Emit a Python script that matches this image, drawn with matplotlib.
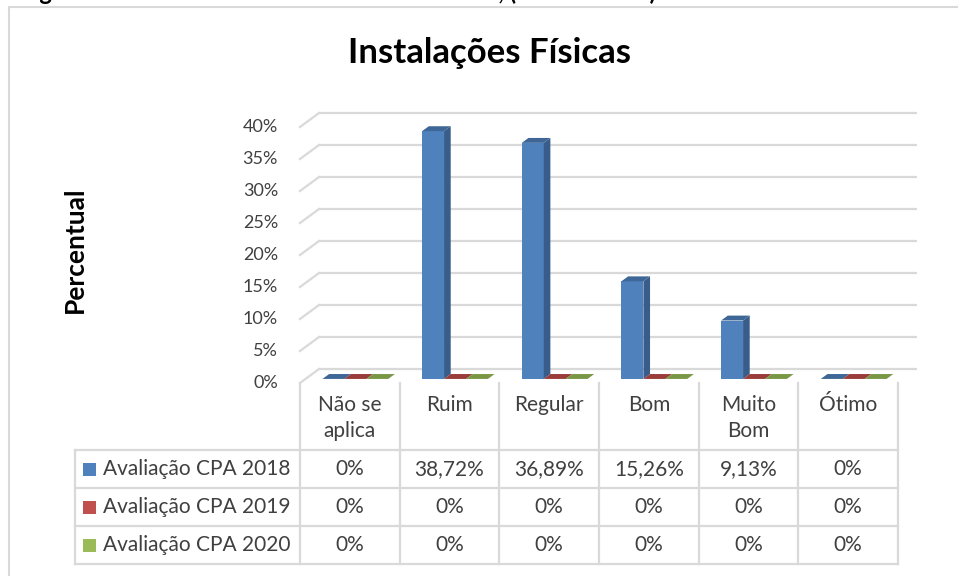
import matplotlib.pyplot as plt
from matplotlib.patches import Polygon, Rectangle

plt.rcParams["font.family"] = ["Lato", "DejaVu Sans"]

# data
categories = ["Não se\naplica", "Ruim", "Regular", "Bom", "Muito\nBom", "Ótimo"]
series_names = ["Avaliação CPA 2018", "Avaliação CPA 2019", "Avaliação CPA 2020"]
cpa_2018 = [0, 38.72, 36.89, 15.26, 9.13, 0]
cpa_2019 = [0, 0, 0, 0, 0, 0]
cpa_2020 = [0, 0, 0, 0, 0, 0]
y_ticks = [0, 5, 10, 15, 20, 25, 30, 35, 40]

series_values = [cpa_2018, cpa_2019, cpa_2020]
front_colors = ["#4f81bd", "#c0504d", "#9bbb59"]
side_colors = ["#385d8a", "#8c3836", "#71893f"]
top_colors = ["#3e6797", "#9a3c3a", "#7a9746"]

grid_color = "#d9d9d9"
text_color = "#404040"


def fmt(v):
    if v == 0:
        return "0%"
    return f"{v:.2f}".replace(".", ",") + "%"


W, H = 958, 576
fig = plt.figure(figsize=(W / 100, H / 100), dpi=100)

# pixel layout of the plot area
cat_px = 99.67       # px per category
pct_px = 6.4         # px per percent
x0_px, y0_px = 300, 383
xmax, ymax = 6.3, 44
ax = fig.add_axes([x0_px / W, 1 - y0_px / H, xmax * cat_px / W, ymax * pct_px / H])
ax.set_xlim(0, xmax)
ax.set_ylim(0, ymax)
ax.axis("off")


def py(pix):
    # figure pixel row -> data y
    return (y0_px - pix) / pct_px


def px(pix):
    return (pix - x0_px) / cat_px


# depth direction of the 3D box, in data units
ddx, ddy = 19 / cat_px, 14 / pct_px
n = len(categories)

# back wall gridlines and left wall diagonals
for v in y_ticks:
    ax.plot([ddx, n + ddx], [v + ddy, v + ddy], color=grid_color, lw=1.6,
            clip_on=False, zorder=1, solid_capstyle="butt")
    ax.plot([0, ddx], [v, v + ddy], color=grid_color, lw=1.6,
            clip_on=False, zorder=1)
    ax.text(px(278), v, f"{v}%", ha="right", va="center", fontsize=13,
            color=text_color)

# 3D bars
bw = 0.22
d_front, d_back = 0.29, 0.64
for i in range(n):
    for j, vals in enumerate(series_values):
        h = vals[i]
        xl = i + 0.17 + j * bw + d_front * ddx
        xr = xl + bw
        yb = d_front * ddy
        sx = (d_back - d_front) * ddx
        sy = (d_back - d_front) * ddy
        z = 3 + i * 3 + j
        if h > 0:
            ax.add_patch(Polygon([(xl, yb), (xr, yb), (xr, yb + h), (xl, yb + h)],
                                 closed=True, fc=front_colors[j], ec="none",
                                 zorder=z, clip_on=False))
            ax.add_patch(Polygon([(xr, yb), (xr + sx, yb + sy), (xr + sx, yb + sy + h),
                                  (xr, yb + h)], closed=True, fc=side_colors[j],
                                 ec="none", zorder=z, clip_on=False))
        ax.add_patch(Polygon([(xl, yb + h), (xr, yb + h), (xr + sx, yb + sy + h),
                              (xl + sx, yb + sy + h)], closed=True, fc=top_colors[j],
                             ec="none", zorder=z, clip_on=False))

# data table
row_lines = [450, 488, 526, 564]
table_left = px(75)
lw_t = 1.6
for k in range(n + 1):
    ax.plot([k, k], [py(383), py(564)], color=grid_color, lw=lw_t, clip_on=False)
for r in row_lines:
    ax.plot([table_left, n], [py(r), py(r)], color=grid_color, lw=lw_t, clip_on=False)
ax.plot([table_left, table_left], [py(450), py(564)], color=grid_color, lw=lw_t,
        clip_on=False)

for i, cat in enumerate(categories):
    ax.text(i + 0.5, py(395), cat, ha="center", va="top", fontsize=15,
            color=text_color, linespacing=1.4)

for j, (name, vals) in enumerate(zip(series_names, series_values)):
    top, bot = row_lines[j], row_lines[j + 1]
    yc = py((top + bot) / 2)
    ax.add_patch(Rectangle((px(83), yc - 6.5 / pct_px), 13 / cat_px, 13 / pct_px,
                           fc=front_colors[j], ec="none", clip_on=False))
    ax.text(px(103), yc, name, ha="left", va="center", fontsize=15,
            color=text_color)
    for i, v in enumerate(vals):
        ax.text(i + 0.5, yc, fmt(v), ha="center", va="center", fontsize=15,
                color=text_color)

# titles
fig.text(490 / W, 1 - 53 / H, "Instalações Físicas", ha="center", va="center",
         fontsize=25, fontweight="bold", color="black")
fig.text(75 / W, 1 - 250 / H, "Percentual", ha="center", va="center",
         rotation=90, fontsize=19, fontweight="bold", color="black")

# outer chart frame (cut off at right and bottom)
fig.add_artist(Rectangle((9 / W, -0.05), 1.1, 1 - 6.5 / H + 0.05,
                         transform=fig.transFigure, fill=False, ec=grid_color,
                         lw=1.5))

# page caption above, only descenders visible
fig.text(20 / W, 1.0, "Figura 12 – Resultado da Infraestrutura Física, (2018 a 2020)",
         ha="left", va="baseline", fontsize=17, fontweight="bold", color="black")

fig.savefig("out.png", dpi=100, facecolor="white")
